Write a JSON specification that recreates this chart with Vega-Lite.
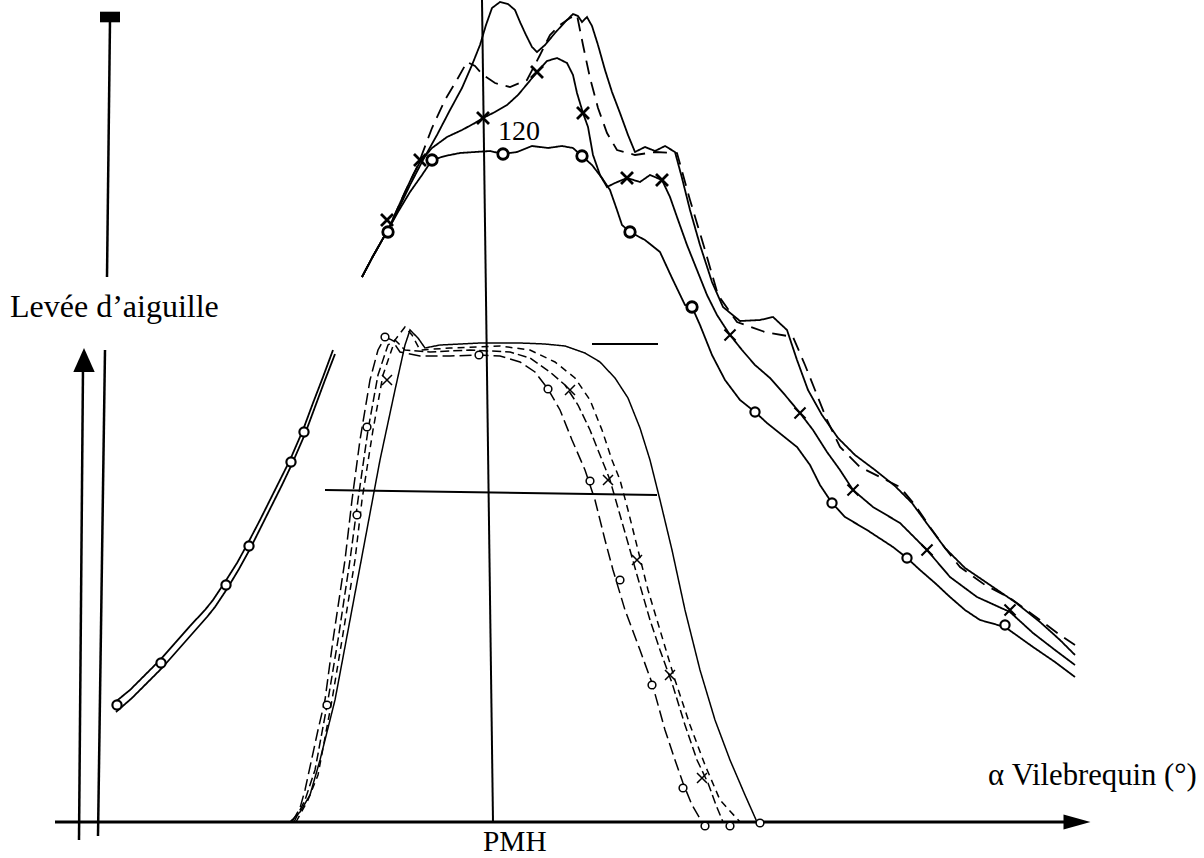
{
"$schema":"https://vega.github.io/schema/vega-lite/v6.json",
"width":1204,"height":858,"padding":0,"autosize":{"type":"none"},"background":"white",
"config":{"view":{"stroke":null}},
"datasets":{
"pression":[
{"seg":"pc0","c":"continu","x":114,"y":703},{"seg":"pc0","c":"continu","x":130,"y":690},{"seg":"pc0","c":"continu","x":145,"y":675},{"seg":"pc0","c":"continu","x":160,"y":660},{"seg":"pc0","c":"continu","x":175,"y":643},{"seg":"pc0","c":"continu","x":190,"y":626},{"seg":"pc0","c":"continu","x":205,"y":610},{"seg":"pc0","c":"continu","x":213,"y":600},{"seg":"pc0","c":"continu","x":225,"y":582},{"seg":"pc0","c":"continu","x":237,"y":563},{"seg":"pc0","c":"continu","x":248,"y":543},{"seg":"pc0","c":"continu","x":260,"y":520},{"seg":"pc0","c":"continu","x":270,"y":500},{"seg":"pc0","c":"continu","x":280,"y":480},{"seg":"pc0","c":"continu","x":290,"y":460},{"seg":"pc0","c":"continu","x":303,"y":430},{"seg":"pc0","c":"continu","x":313,"y":403},{"seg":"pc0","c":"continu","x":323,"y":377},{"seg":"pc0","c":"continu","x":333,"y":350},
{"seg":"po0","c":"ronds","x":116,"y":712},{"seg":"po0","c":"ronds","x":132,"y":698},{"seg":"po0","c":"ronds","x":147,"y":683},{"seg":"po0","c":"ronds","x":162,"y":668},{"seg":"po0","c":"ronds","x":177,"y":651},{"seg":"po0","c":"ronds","x":192,"y":634},{"seg":"po0","c":"ronds","x":207,"y":617},{"seg":"po0","c":"ronds","x":215,"y":607},{"seg":"po0","c":"ronds","x":227,"y":589},{"seg":"po0","c":"ronds","x":239,"y":569},{"seg":"po0","c":"ronds","x":250,"y":549},{"seg":"po0","c":"ronds","x":262,"y":525},{"seg":"po0","c":"ronds","x":272,"y":505},{"seg":"po0","c":"ronds","x":282,"y":485},{"seg":"po0","c":"ronds","x":292,"y":464},{"seg":"po0","c":"ronds","x":305,"y":434},{"seg":"po0","c":"ronds","x":315,"y":407},{"seg":"po0","c":"ronds","x":325,"y":380},{"seg":"po0","c":"ronds","x":335,"y":354},
{"seg":"pd1","c":"tirets","x":362,"y":277},{"seg":"pd1","c":"tirets","x":372,"y":258},{"seg":"pd1","c":"tirets","x":381,"y":242},{"seg":"pd1","c":"tirets","x":388,"y":230},{"seg":"pd1","c":"tirets","x":396,"y":212},{"seg":"pd1","c":"tirets","x":406,"y":190},{"seg":"pd1","c":"tirets","x":418,"y":165},{"seg":"pd1","c":"tirets","x":432,"y":128},{"seg":"pd1","c":"tirets","x":445,"y":100},{"seg":"pd1","c":"tirets","x":458,"y":78},{"seg":"pd1","c":"tirets","x":467,"y":62},{"seg":"pd1","c":"tirets","x":475,"y":66},{"seg":"pd1","c":"tirets","x":483,"y":75},{"seg":"pd1","c":"tirets","x":495,"y":83},{"seg":"pd1","c":"tirets","x":510,"y":87},{"seg":"pd1","c":"tirets","x":527,"y":80},{"seg":"pd1","c":"tirets","x":540,"y":55},{"seg":"pd1","c":"tirets","x":550,"y":35},{"seg":"pd1","c":"tirets","x":560,"y":25},{"seg":"pd1","c":"tirets","x":570,"y":18},{"seg":"pd1","c":"tirets","x":577,"y":15},{"seg":"pd1","c":"tirets","x":583,"y":45},{"seg":"pd1","c":"tirets","x":590,"y":78},{"seg":"pd1","c":"tirets","x":598,"y":108},{"seg":"pd1","c":"tirets","x":607,"y":133},{"seg":"pd1","c":"tirets","x":617,"y":150},{"seg":"pd1","c":"tirets","x":635,"y":155},{"seg":"pd1","c":"tirets","x":655,"y":152},{"seg":"pd1","c":"tirets","x":677,"y":153},{"seg":"pd1","c":"tirets","x":690,"y":200},{"seg":"pd1","c":"tirets","x":705,"y":250},{"seg":"pd1","c":"tirets","x":718,"y":295},{"seg":"pd1","c":"tirets","x":737,"y":322},{"seg":"pd1","c":"tirets","x":765,"y":332},{"seg":"pd1","c":"tirets","x":793,"y":337},{"seg":"pd1","c":"tirets","x":805,"y":365},{"seg":"pd1","c":"tirets","x":815,"y":390},{"seg":"pd1","c":"tirets","x":827,"y":420},{"seg":"pd1","c":"tirets","x":840,"y":447},{"seg":"pd1","c":"tirets","x":860,"y":467},{"seg":"pd1","c":"tirets","x":880,"y":477},{"seg":"pd1","c":"tirets","x":900,"y":487},{"seg":"pd1","c":"tirets","x":915,"y":505},{"seg":"pd1","c":"tirets","x":930,"y":527},{"seg":"pd1","c":"tirets","x":945,"y":548},{"seg":"pd1","c":"tirets","x":960,"y":567},{"seg":"pd1","c":"tirets","x":985,"y":585},{"seg":"pd1","c":"tirets","x":1010,"y":598},{"seg":"pd1","c":"tirets","x":1040,"y":620},{"seg":"pd1","c":"tirets","x":1060,"y":635},{"seg":"pd1","c":"tirets","x":1075,"y":645},
{"seg":"pc1","c":"continu","x":362,"y":277},{"seg":"pc1","c":"continu","x":372,"y":258},{"seg":"pc1","c":"continu","x":381,"y":242},{"seg":"pc1","c":"continu","x":388,"y":230},{"seg":"pc1","c":"continu","x":398,"y":210},{"seg":"pc1","c":"continu","x":410,"y":185},{"seg":"pc1","c":"continu","x":423,"y":160},{"seg":"pc1","c":"continu","x":437,"y":135},{"seg":"pc1","c":"continu","x":450,"y":110},{"seg":"pc1","c":"continu","x":462,"y":88},{"seg":"pc1","c":"continu","x":472,"y":65},{"seg":"pc1","c":"continu","x":480,"y":45},{"seg":"pc1","c":"continu","x":486,"y":25},{"seg":"pc1","c":"continu","x":492,"y":8},{"seg":"pc1","c":"continu","x":500,"y":2},{"seg":"pc1","c":"continu","x":508,"y":4},{"seg":"pc1","c":"continu","x":515,"y":10},{"seg":"pc1","c":"continu","x":520,"y":22},{"seg":"pc1","c":"continu","x":526,"y":35},{"seg":"pc1","c":"continu","x":532,"y":47},{"seg":"pc1","c":"continu","x":537,"y":52},{"seg":"pc1","c":"continu","x":545,"y":45},{"seg":"pc1","c":"continu","x":555,"y":33},{"seg":"pc1","c":"continu","x":565,"y":22},{"seg":"pc1","c":"continu","x":573,"y":14},{"seg":"pc1","c":"continu","x":578,"y":16},{"seg":"pc1","c":"continu","x":582,"y":22},{"seg":"pc1","c":"continu","x":587,"y":17},{"seg":"pc1","c":"continu","x":592,"y":26},{"seg":"pc1","c":"continu","x":598,"y":45},{"seg":"pc1","c":"continu","x":605,"y":70},{"seg":"pc1","c":"continu","x":612,"y":92},{"seg":"pc1","c":"continu","x":620,"y":113},{"seg":"pc1","c":"continu","x":628,"y":135},{"seg":"pc1","c":"continu","x":635,"y":152},{"seg":"pc1","c":"continu","x":645,"y":147},{"seg":"pc1","c":"continu","x":655,"y":151},{"seg":"pc1","c":"continu","x":665,"y":146},{"seg":"pc1","c":"continu","x":675,"y":152},{"seg":"pc1","c":"continu","x":682,"y":178},{"seg":"pc1","c":"continu","x":690,"y":210},{"seg":"pc1","c":"continu","x":700,"y":245},{"seg":"pc1","c":"continu","x":712,"y":282},{"seg":"pc1","c":"continu","x":723,"y":307},{"seg":"pc1","c":"continu","x":740,"y":321},{"seg":"pc1","c":"continu","x":760,"y":320},{"seg":"pc1","c":"continu","x":773,"y":317},{"seg":"pc1","c":"continu","x":787,"y":330},{"seg":"pc1","c":"continu","x":797,"y":360},{"seg":"pc1","c":"continu","x":808,"y":390},{"seg":"pc1","c":"continu","x":822,"y":415},{"seg":"pc1","c":"continu","x":838,"y":438},{"seg":"pc1","c":"continu","x":855,"y":455},{"seg":"pc1","c":"continu","x":875,"y":470},{"seg":"pc1","c":"continu","x":895,"y":486},{"seg":"pc1","c":"continu","x":912,"y":503},{"seg":"pc1","c":"continu","x":928,"y":525},{"seg":"pc1","c":"continu","x":945,"y":548},{"seg":"pc1","c":"continu","x":965,"y":568},{"seg":"pc1","c":"continu","x":990,"y":585},{"seg":"pc1","c":"continu","x":1015,"y":602},{"seg":"pc1","c":"continu","x":1040,"y":622},{"seg":"pc1","c":"continu","x":1060,"y":640},{"seg":"pc1","c":"continu","x":1075,"y":655},
{"seg":"px1","c":"croix","x":362,"y":277},{"seg":"px1","c":"croix","x":372,"y":258},{"seg":"px1","c":"croix","x":381,"y":242},{"seg":"px1","c":"croix","x":388,"y":230},{"seg":"px1","c":"croix","x":396,"y":212},{"seg":"px1","c":"croix","x":405,"y":192},{"seg":"px1","c":"croix","x":413,"y":175},{"seg":"px1","c":"croix","x":420,"y":162},{"seg":"px1","c":"croix","x":432,"y":148},{"seg":"px1","c":"croix","x":447,"y":137},{"seg":"px1","c":"croix","x":462,"y":130},{"seg":"px1","c":"croix","x":475,"y":123},{"seg":"px1","c":"croix","x":483,"y":118},{"seg":"px1","c":"croix","x":495,"y":112},{"seg":"px1","c":"croix","x":507,"y":105},{"seg":"px1","c":"croix","x":518,"y":95},{"seg":"px1","c":"croix","x":528,"y":83},{"seg":"px1","c":"croix","x":537,"y":72},{"seg":"px1","c":"croix","x":547,"y":61},{"seg":"px1","c":"croix","x":557,"y":58},{"seg":"px1","c":"croix","x":567,"y":63},{"seg":"px1","c":"croix","x":573,"y":75},{"seg":"px1","c":"croix","x":577,"y":93},{"seg":"px1","c":"croix","x":583,"y":113},{"seg":"px1","c":"croix","x":588,"y":127},{"seg":"px1","c":"croix","x":593,"y":155},{"seg":"px1","c":"croix","x":600,"y":175},{"seg":"px1","c":"croix","x":607,"y":187},{"seg":"px1","c":"croix","x":615,"y":183},{"seg":"px1","c":"croix","x":627,"y":178},{"seg":"px1","c":"croix","x":640,"y":182},{"seg":"px1","c":"croix","x":650,"y":175},{"seg":"px1","c":"croix","x":662,"y":180},{"seg":"px1","c":"croix","x":670,"y":197},{"seg":"px1","c":"croix","x":677,"y":217},{"seg":"px1","c":"croix","x":687,"y":245},{"seg":"px1","c":"croix","x":697,"y":270},{"seg":"px1","c":"croix","x":707,"y":295},{"seg":"px1","c":"croix","x":717,"y":315},{"seg":"px1","c":"croix","x":730,"y":335},{"seg":"px1","c":"croix","x":742,"y":350},{"seg":"px1","c":"croix","x":755,"y":365},{"seg":"px1","c":"croix","x":770,"y":378},{"seg":"px1","c":"croix","x":785,"y":395},{"seg":"px1","c":"croix","x":800,"y":413},{"seg":"px1","c":"croix","x":813,"y":430},{"seg":"px1","c":"croix","x":827,"y":452},{"seg":"px1","c":"croix","x":840,"y":470},{"seg":"px1","c":"croix","x":853,"y":490},{"seg":"px1","c":"croix","x":873,"y":507},{"seg":"px1","c":"croix","x":900,"y":523},{"seg":"px1","c":"croix","x":927,"y":550},{"seg":"px1","c":"croix","x":950,"y":577},{"seg":"px1","c":"croix","x":977,"y":597},{"seg":"px1","c":"croix","x":1010,"y":612},{"seg":"px1","c":"croix","x":1033,"y":633},{"seg":"px1","c":"croix","x":1055,"y":650},{"seg":"px1","c":"croix","x":1075,"y":665},
{"seg":"po1","c":"ronds","x":362,"y":277},{"seg":"po1","c":"ronds","x":372,"y":258},{"seg":"po1","c":"ronds","x":381,"y":242},{"seg":"po1","c":"ronds","x":388,"y":230},{"seg":"po1","c":"ronds","x":398,"y":212},{"seg":"po1","c":"ronds","x":410,"y":192},{"seg":"po1","c":"ronds","x":422,"y":175},{"seg":"po1","c":"ronds","x":432,"y":160},{"seg":"po1","c":"ronds","x":445,"y":156},{"seg":"po1","c":"ronds","x":460,"y":153},{"seg":"po1","c":"ronds","x":475,"y":152},{"seg":"po1","c":"ronds","x":490,"y":151},{"seg":"po1","c":"ronds","x":503,"y":154},{"seg":"po1","c":"ronds","x":517,"y":152},{"seg":"po1","c":"ronds","x":532,"y":146},{"seg":"po1","c":"ronds","x":548,"y":148},{"seg":"po1","c":"ronds","x":562,"y":146},{"seg":"po1","c":"ronds","x":573,"y":148},{"seg":"po1","c":"ronds","x":582,"y":156},{"seg":"po1","c":"ronds","x":592,"y":165},{"seg":"po1","c":"ronds","x":602,"y":178},{"seg":"po1","c":"ronds","x":610,"y":190},{"seg":"po1","c":"ronds","x":617,"y":210},{"seg":"po1","c":"ronds","x":622,"y":225},{"seg":"po1","c":"ronds","x":630,"y":232},{"seg":"po1","c":"ronds","x":645,"y":240},{"seg":"po1","c":"ronds","x":660,"y":252},{"seg":"po1","c":"ronds","x":672,"y":278},{"seg":"po1","c":"ronds","x":685,"y":305},{"seg":"po1","c":"ronds","x":692,"y":307},{"seg":"po1","c":"ronds","x":700,"y":325},{"seg":"po1","c":"ronds","x":712,"y":355},{"seg":"po1","c":"ronds","x":725,"y":380},{"seg":"po1","c":"ronds","x":740,"y":400},{"seg":"po1","c":"ronds","x":755,"y":412},{"seg":"po1","c":"ronds","x":767,"y":423},{"seg":"po1","c":"ronds","x":782,"y":435},{"seg":"po1","c":"ronds","x":797,"y":447},{"seg":"po1","c":"ronds","x":810,"y":465},{"seg":"po1","c":"ronds","x":820,"y":485},{"seg":"po1","c":"ronds","x":832,"y":503},{"seg":"po1","c":"ronds","x":845,"y":517},{"seg":"po1","c":"ronds","x":867,"y":530},{"seg":"po1","c":"ronds","x":893,"y":547},{"seg":"po1","c":"ronds","x":907,"y":558},{"seg":"po1","c":"ronds","x":920,"y":570},{"seg":"po1","c":"ronds","x":935,"y":583},{"seg":"po1","c":"ronds","x":950,"y":597},{"seg":"po1","c":"ronds","x":965,"y":610},{"seg":"po1","c":"ronds","x":980,"y":620},{"seg":"po1","c":"ronds","x":1005,"y":627},{"seg":"po1","c":"ronds","x":1033,"y":647},{"seg":"po1","c":"ronds","x":1055,"y":662},{"seg":"po1","c":"ronds","x":1075,"y":677}
],
"levee":[
{"seg":"lo","c":"l-ronds","x":292,"y":822},{"seg":"lo","c":"l-ronds","x":300,"y":808},{"seg":"lo","c":"l-ronds","x":305,"y":790},{"seg":"lo","c":"l-ronds","x":318,"y":730},{"seg":"lo","c":"l-ronds","x":325,"y":700},{"seg":"lo","c":"l-ronds","x":333,"y":640},{"seg":"lo","c":"l-ronds","x":345,"y":560},{"seg":"lo","c":"l-ronds","x":352,"y":500},{"seg":"lo","c":"l-ronds","x":360,"y":440},{"seg":"lo","c":"l-ronds","x":370,"y":380},{"seg":"lo","c":"l-ronds","x":378,"y":350},{"seg":"lo","c":"l-ronds","x":385,"y":337},{"seg":"lo","c":"l-ronds","x":392,"y":340},{"seg":"lo","c":"l-ronds","x":400,"y":352},{"seg":"lo","c":"l-ronds","x":420,"y":356},{"seg":"lo","c":"l-ronds","x":450,"y":356},{"seg":"lo","c":"l-ronds","x":479,"y":355},{"seg":"lo","c":"l-ronds","x":500,"y":356},{"seg":"lo","c":"l-ronds","x":520,"y":362},{"seg":"lo","c":"l-ronds","x":535,"y":372},{"seg":"lo","c":"l-ronds","x":548,"y":389},{"seg":"lo","c":"l-ronds","x":560,"y":410},{"seg":"lo","c":"l-ronds","x":572,"y":440},{"seg":"lo","c":"l-ronds","x":585,"y":470},{"seg":"lo","c":"l-ronds","x":595,"y":500},{"seg":"lo","c":"l-ronds","x":605,"y":540},{"seg":"lo","c":"l-ronds","x":613,"y":570},{"seg":"lo","c":"l-ronds","x":625,"y":610},{"seg":"lo","c":"l-ronds","x":640,"y":650},{"seg":"lo","c":"l-ronds","x":652,"y":683},{"seg":"lo","c":"l-ronds","x":665,"y":730},{"seg":"lo","c":"l-ronds","x":675,"y":760},{"seg":"lo","c":"l-ronds","x":683,"y":783},{"seg":"lo","c":"l-ronds","x":692,"y":805},{"seg":"lo","c":"l-ronds","x":702,"y":822},
{"seg":"lx","c":"l-croix","x":294,"y":822},{"seg":"lx","c":"l-croix","x":305,"y":800},{"seg":"lx","c":"l-croix","x":315,"y":770},{"seg":"lx","c":"l-croix","x":328,"y":700},{"seg":"lx","c":"l-croix","x":338,"y":640},{"seg":"lx","c":"l-croix","x":350,"y":560},{"seg":"lx","c":"l-croix","x":358,"y":500},{"seg":"lx","c":"l-croix","x":368,"y":430},{"seg":"lx","c":"l-croix","x":378,"y":375},{"seg":"lx","c":"l-croix","x":388,"y":345},{"seg":"lx","c":"l-croix","x":395,"y":340},{"seg":"lx","c":"l-croix","x":405,"y":350},{"seg":"lx","c":"l-croix","x":430,"y":352},{"seg":"lx","c":"l-croix","x":470,"y":350},{"seg":"lx","c":"l-croix","x":510,"y":352},{"seg":"lx","c":"l-croix","x":530,"y":358},{"seg":"lx","c":"l-croix","x":550,"y":372},{"seg":"lx","c":"l-croix","x":565,"y":385},{"seg":"lx","c":"l-croix","x":578,"y":405},{"seg":"lx","c":"l-croix","x":590,"y":430},{"seg":"lx","c":"l-croix","x":600,"y":455},{"seg":"lx","c":"l-croix","x":610,"y":480},{"seg":"lx","c":"l-croix","x":620,"y":515},{"seg":"lx","c":"l-croix","x":630,"y":550},{"seg":"lx","c":"l-croix","x":637,"y":575},{"seg":"lx","c":"l-croix","x":650,"y":620},{"seg":"lx","c":"l-croix","x":660,"y":650},{"seg":"lx","c":"l-croix","x":672,"y":683},{"seg":"lx","c":"l-croix","x":685,"y":725},{"seg":"lx","c":"l-croix","x":697,"y":760},{"seg":"lx","c":"l-croix","x":708,"y":783},{"seg":"lx","c":"l-croix","x":716,"y":805},{"seg":"lx","c":"l-croix","x":723,"y":822},
{"seg":"ld","c":"l-tirets","x":296,"y":822},{"seg":"ld","c":"l-tirets","x":308,"y":800},{"seg":"ld","c":"l-tirets","x":318,"y":775},{"seg":"ld","c":"l-tirets","x":332,"y":700},{"seg":"ld","c":"l-tirets","x":342,"y":640},{"seg":"ld","c":"l-tirets","x":355,"y":560},{"seg":"ld","c":"l-tirets","x":362,"y":500},{"seg":"ld","c":"l-tirets","x":373,"y":430},{"seg":"ld","c":"l-tirets","x":383,"y":375},{"seg":"ld","c":"l-tirets","x":395,"y":340},{"seg":"ld","c":"l-tirets","x":405,"y":327},{"seg":"ld","c":"l-tirets","x":412,"y":335},{"seg":"ld","c":"l-tirets","x":420,"y":350},{"seg":"ld","c":"l-tirets","x":450,"y":348},{"seg":"ld","c":"l-tirets","x":500,"y":346},{"seg":"ld","c":"l-tirets","x":530,"y":350},{"seg":"ld","c":"l-tirets","x":555,"y":362},{"seg":"ld","c":"l-tirets","x":575,"y":378},{"seg":"ld","c":"l-tirets","x":590,"y":400},{"seg":"ld","c":"l-tirets","x":602,"y":430},{"seg":"ld","c":"l-tirets","x":612,"y":460},{"seg":"ld","c":"l-tirets","x":620,"y":480},{"seg":"ld","c":"l-tirets","x":628,"y":510},{"seg":"ld","c":"l-tirets","x":638,"y":550},{"seg":"ld","c":"l-tirets","x":648,"y":590},{"seg":"ld","c":"l-tirets","x":660,"y":630},{"seg":"ld","c":"l-tirets","x":675,"y":680},{"seg":"ld","c":"l-tirets","x":690,"y":725},{"seg":"ld","c":"l-tirets","x":705,"y":765},{"seg":"ld","c":"l-tirets","x":720,"y":800},{"seg":"ld","c":"l-tirets","x":740,"y":822},
{"seg":"lc","c":"l-continu","x":290,"y":822},{"seg":"lc","c":"l-continu","x":300,"y":812},{"seg":"lc","c":"l-continu","x":310,"y":795},{"seg":"lc","c":"l-continu","x":320,"y":760},{"seg":"lc","c":"l-continu","x":335,"y":700},{"seg":"lc","c":"l-continu","x":350,"y":620},{"seg":"lc","c":"l-continu","x":365,"y":540},{"seg":"lc","c":"l-continu","x":380,"y":460},{"seg":"lc","c":"l-continu","x":395,"y":390},{"seg":"lc","c":"l-continu","x":405,"y":345},{"seg":"lc","c":"l-continu","x":410,"y":330},{"seg":"lc","c":"l-continu","x":418,"y":338},{"seg":"lc","c":"l-continu","x":425,"y":348},{"seg":"lc","c":"l-continu","x":440,"y":345},{"seg":"lc","c":"l-continu","x":480,"y":343},{"seg":"lc","c":"l-continu","x":520,"y":343},{"seg":"lc","c":"l-continu","x":545,"y":344},{"seg":"lc","c":"l-continu","x":565,"y":346},{"seg":"lc","c":"l-continu","x":585,"y":353},{"seg":"lc","c":"l-continu","x":600,"y":362},{"seg":"lc","c":"l-continu","x":615,"y":378},{"seg":"lc","c":"l-continu","x":628,"y":398},{"seg":"lc","c":"l-continu","x":640,"y":428},{"seg":"lc","c":"l-continu","x":650,"y":460},{"seg":"lc","c":"l-continu","x":660,"y":500},{"seg":"lc","c":"l-continu","x":672,"y":550},{"seg":"lc","c":"l-continu","x":685,"y":610},{"seg":"lc","c":"l-continu","x":700,"y":670},{"seg":"lc","c":"l-continu","x":715,"y":720},{"seg":"lc","c":"l-continu","x":730,"y":760},{"seg":"lc","c":"l-continu","x":745,"y":795},{"seg":"lc","c":"l-continu","x":757,"y":822}
],
"reperes":[
{"k":"o","g":"p1","x":388,"y":232},{"k":"o","g":"p1","x":432,"y":160},{"k":"o","g":"p1","x":503,"y":154},{"k":"o","g":"p1","x":582,"y":156},{"k":"o","g":"p1","x":630,"y":232},{"k":"o","g":"p1","x":692,"y":307},
{"k":"o","g":"p2","x":755,"y":412},{"k":"o","g":"p2","x":832,"y":503},{"k":"o","g":"p2","x":907,"y":558},{"k":"o","g":"p2","x":1005,"y":625},{"k":"o","g":"p2","x":304,"y":432},{"k":"o","g":"p2","x":291,"y":462},{"k":"o","g":"p2","x":249,"y":546},{"k":"o","g":"p2","x":226,"y":585},{"k":"o","g":"p2","x":161,"y":663},{"k":"o","g":"p2","x":117,"y":705},
{"k":"x","g":"p1","x":387,"y":220},{"k":"x","g":"p1","x":420,"y":160},{"k":"x","g":"p1","x":483,"y":118},{"k":"x","g":"p1","x":537,"y":72},{"k":"x","g":"p1","x":583,"y":113},{"k":"x","g":"p1","x":627,"y":178},{"k":"x","g":"p1","x":662,"y":180},
{"k":"x","g":"p2","x":730,"y":335},{"k":"x","g":"p2","x":800,"y":413},{"k":"x","g":"p2","x":853,"y":490},{"k":"x","g":"p2","x":927,"y":550},{"k":"x","g":"p2","x":1010,"y":610},
{"k":"o","g":"l","x":385,"y":337},{"k":"o","g":"l","x":479,"y":355},{"k":"o","g":"l","x":548,"y":389},{"k":"o","g":"l","x":590,"y":481},{"k":"o","g":"l","x":367,"y":427},{"k":"o","g":"l","x":357,"y":515},{"k":"o","g":"l","x":327,"y":705},{"k":"o","g":"l","x":620,"y":580},{"k":"o","g":"l","x":652,"y":685},{"k":"o","g":"l","x":683,"y":788},{"k":"o","g":"l","x":705,"y":826},{"k":"o","g":"l","x":730,"y":826},{"k":"o","g":"l","x":760,"y":823},
{"k":"x","g":"l","x":387,"y":380},{"k":"x","g":"l","x":570,"y":390},{"k":"x","g":"l","x":608,"y":480},{"k":"x","g":"l","x":637,"y":560},{"k":"x","g":"l","x":670,"y":675},{"k":"x","g":"l","x":702,"y":778}
],
"regles":[
{"k":"axe","x":55,"y":822,"x2":1066,"y2":822},
{"k":"trait","x":79,"y":840,"x2":83,"y2":368},
{"k":"trait","x":98,"y":836,"x2":105,"y2":350},
{"k":"trait","x":107,"y":277,"x2":110,"y2":20},
{"k":"fin","x":482,"y":0,"x2":493,"y2":822},
{"k":"fin","x":592,"y":344,"x2":658,"y2":344},
{"k":"fin","x":325,"y":490,"x2":657,"y2":495}
],
"fleches":[
{"k":"droite","x":1077,"y":822},
{"k":"haut","x":84,"y":360},
{"k":"carre","x":110,"y":17}
],
"textes":[
{"t":"Levée d’aiguille","k":"grand","x":10,"y":317},
{"t":"α Vilebrequin (°)","k":"moyen","x":988,"y":785},
{"t":"PMH","k":"pmh","x":483,"y":851},
{"t":"120","k":"petit","x":498,"y":140}
]
},
"layer":[
{"data":{"name":"levee"},
 "mark":{"type":"line","color":"black","strokeWidth":1.5},
 "encoding":{
  "x":{"field":"x","type":"quantitative","scale":{"domain":[0,1204],"nice":false,"zero":false},"axis":null},
  "y":{"field":"y","type":"quantitative","scale":{"domain":[0,858],"nice":false,"zero":false,"reverse":true},"axis":null},
  "detail":{"field":"seg"},
  "strokeDash":{"field":"c","type":"nominal","legend":null,"scale":{"domain":["tirets","continu","croix","ronds","l-ronds","l-croix","l-tirets","l-continu"],"range":[[14,8],[1,0],[1,0],[1,0],[12,5],[9,4],[7,5],[1,0]]}}
 }},
{"data":{"name":"pression"},
 "mark":{"type":"line","color":"black","strokeWidth":1.8},
 "encoding":{
  "x":{"field":"x","type":"quantitative","scale":{"domain":[0,1204],"nice":false,"zero":false},"axis":null},
  "y":{"field":"y","type":"quantitative","scale":{"domain":[0,858],"nice":false,"zero":false,"reverse":true},"axis":null},
  "detail":{"field":"seg"},
  "strokeDash":{"field":"c","type":"nominal","legend":null,"scale":{"domain":["tirets","continu","croix","ronds","l-ronds","l-croix","l-tirets","l-continu"],"range":[[14,8],[1,0],[1,0],[1,0],[12,5],[9,4],[7,5],[1,0]]}}
 }},
{"data":{"name":"regles"},
 "mark":{"type":"rule","color":"black"},
 "encoding":{
  "x":{"field":"x","type":"quantitative","scale":{"domain":[0,1204],"nice":false,"zero":false},"axis":null},
  "y":{"field":"y","type":"quantitative","scale":{"domain":[0,858],"nice":false,"zero":false,"reverse":true},"axis":null},
  "x2":{"field":"x2"},"y2":{"field":"y2"},
  "strokeWidth":{"field":"k","type":"nominal","legend":null,"scale":{"domain":["axe","trait","fin"],"range":[3,2,1.2]}}
 }},
{"data":{"name":"fleches"},
 "mark":{"type":"point","filled":true,"color":"black","opacity":1},
 "encoding":{
  "x":{"field":"x","type":"quantitative","scale":{"domain":[0,1204],"nice":false,"zero":false},"axis":null},
  "y":{"field":"y","type":"quantitative","scale":{"domain":[0,858],"nice":false,"zero":false,"reverse":true},"axis":null},
  "shape":{"field":"k","type":"nominal","legend":null,"scale":{"domain":["droite","haut","carre"],"range":["M-1,-0.56L1,0L-1,0.56Z","M0,-1L0.9,1L-0.9,1Z","M-1,-0.53L1,-0.53L1,0.53L-1,0.53Z"]}},
  "size":{"field":"k","type":"nominal","legend":null,"scale":{"domain":["droite","haut","carre"],"range":[729,400,289]}}
 }},
{"data":{"name":"reperes"},
 "transform":[{"filter":"datum.k === 'o'"}],
 "mark":{"type":"point","shape":"circle","filled":false,"fill":"white","fillOpacity":1,"stroke":"black","opacity":1},
 "encoding":{
  "x":{"field":"x","type":"quantitative","scale":{"domain":[0,1204],"nice":false,"zero":false},"axis":null},
  "y":{"field":"y","type":"quantitative","scale":{"domain":[0,858],"nice":false,"zero":false,"reverse":true},"axis":null},
  "size":{"field":"g","type":"nominal","legend":null,"scale":{"domain":["p1","p2","l"],"range":[110,60,45]}},
  "strokeWidth":{"field":"g","type":"nominal","legend":null,"scale":{"domain":["p1","p2","l"],"range":[2.8,1.5,1.3]}}
 }},
{"data":{"name":"reperes"},
 "transform":[{"filter":"datum.k === 'x'"}],
 "mark":{"type":"point","shape":"M-1,-1L1,1M1,-1L-1,1","filled":false,"stroke":"black","opacity":1},
 "encoding":{
  "x":{"field":"x","type":"quantitative","scale":{"domain":[0,1204],"nice":false,"zero":false},"axis":null},
  "y":{"field":"y","type":"quantitative","scale":{"domain":[0,858],"nice":false,"zero":false,"reverse":true},"axis":null},
  "size":{"field":"g","type":"nominal","legend":null,"scale":{"domain":["p1","p2","l"],"range":[144,100,64]}},
  "strokeWidth":{"field":"g","type":"nominal","legend":null,"scale":{"domain":["p1","p2","l"],"range":[2.8,1.5,1.3]}}
 }},
{"data":{"name":"textes"},
 "mark":{"type":"text","font":"Liberation Serif","align":"left","baseline":"alphabetic","color":"black"},
 "encoding":{
  "x":{"field":"x","type":"quantitative","scale":{"domain":[0,1204],"nice":false,"zero":false},"axis":null},
  "y":{"field":"y","type":"quantitative","scale":{"domain":[0,858],"nice":false,"zero":false,"reverse":true},"axis":null},
  "text":{"field":"t"},
  "size":{"field":"k","type":"nominal","legend":null,"scale":{"domain":["grand","moyen","pmh","petit"],"range":[32,28,26,27]}}
 }}
],
"resolve":{"scale":{"size":"independent","strokeWidth":"independent","shape":"independent"}}
}
